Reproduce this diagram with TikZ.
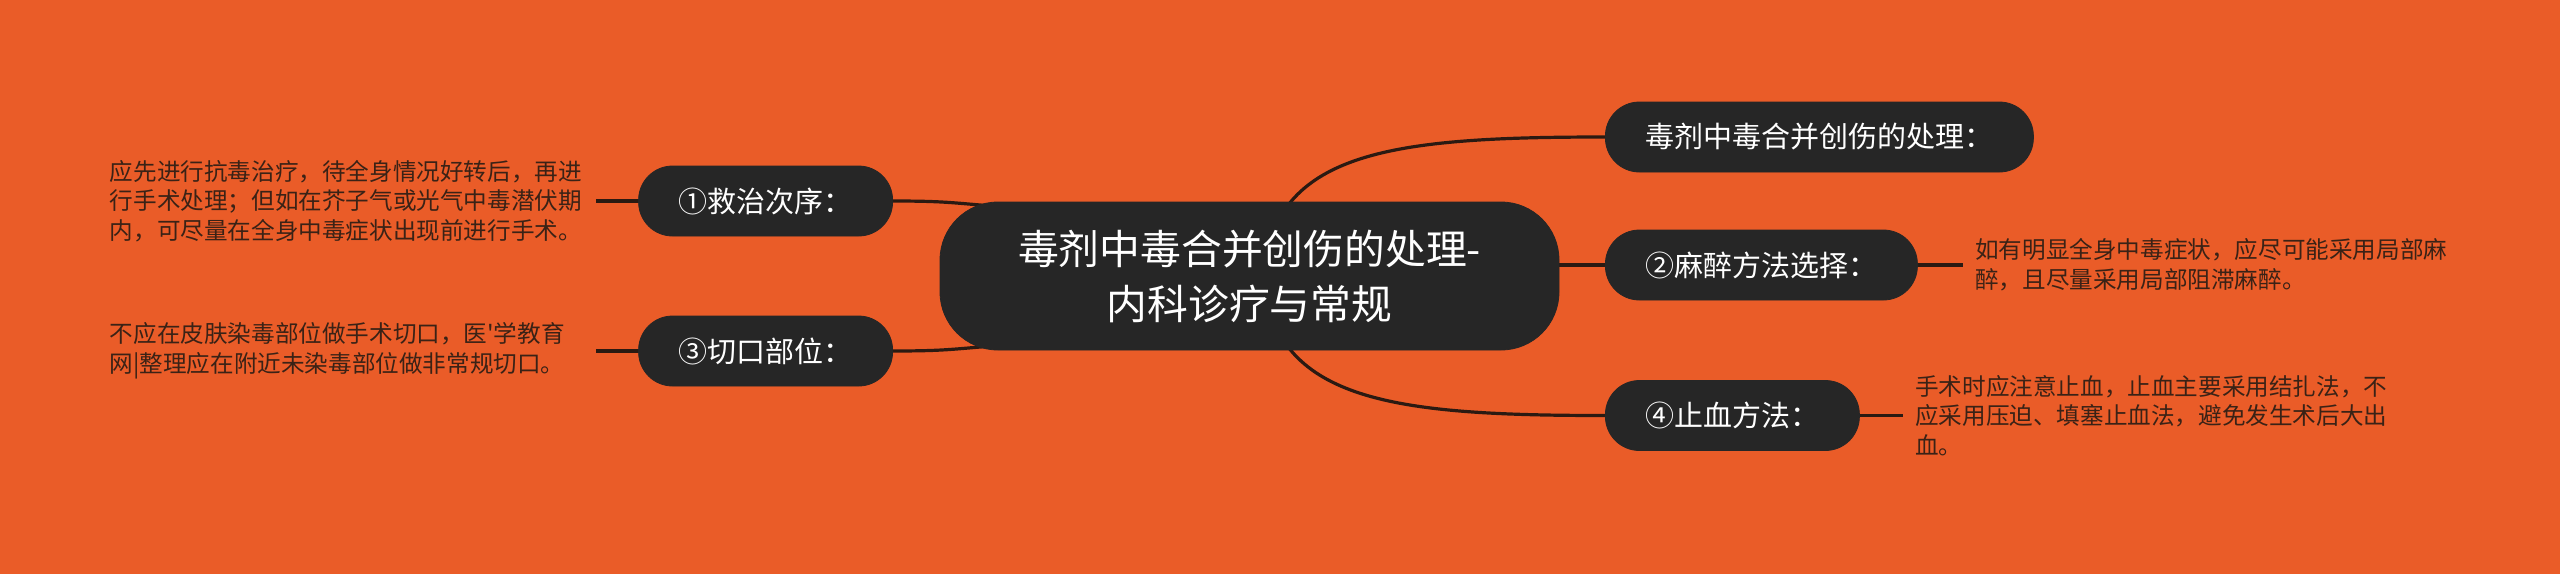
\documentclass[tikz,border=0pt]{standalone}
\usepackage{fontspec}
\setmainfont{Noto Sans CJK SC}[Ligatures=TeXOff,Kerning=Off]
\usetikzlibrary{positioning,calc}
\definecolor{mapbg}{HTML}{EA5C28}
\definecolor{nodefill}{HTML}{262626}
\definecolor{linkcol}{HTML}{2B1A12}
\definecolor{desccol}{HTML}{3A2216}
\pgfdeclarelayer{backdrop}
\pgfdeclarelayer{links}
\pgfsetlayers{backdrop,links,main}
\tikzset{
    topic/.style={fill=nodefill, draw=black!85, text=white, rounded corners=17pt,
        minimum height=35pt, inner xsep=20pt, font=\fontsize{14.5pt}{17pt}\selectfont},
    mainidea/.style={topic, rounded corners=29pt, minimum width=309.5pt,
        minimum height=74pt, align=center, font=\fontsize{20.4pt}{27.5pt}\selectfont},
    detail/.style={text=desccol, text width=237pt, align=left, inner sep=6pt,
        font=\fontsize{11.8pt}{14.8pt}\selectfont},
    branch/.style={draw=linkcol, line width=1.6pt},
}

\begin{document}
\begin{tikzpicture}[x=0.5pt,y=-0.5pt]
    \begin{pgfonlayer}{backdrop}
        \fill[mapbg] (0,0) rectangle (2560,574);
    \end{pgfonlayer}
    \useasboundingbox (0,0) rectangle (2560,574);
    \node[mainidea] (c) at (1249.5,276) {毒剂中毒合并创伤的处理-\\内科诊疗与常规};
    % left side
    \node[topic, anchor=east] (n1) at (893,201) {①救治次序：};
    \node[topic, anchor=east] (n3) at (893,351) {③切口部位：};
    \node[detail, left=21pt of n1] (t1) {应先进行抗毒治疗，待全身情况好转后，再进\\行手术处理；但如在芥子气或光气中毒潜伏期\\内，可尽量在全身中毒症状出现前进行手术。};
    \node[detail, left=21pt of n3] (t3) {不应在皮肤染毒部位做手术切口，医'学教育\\网|整理应在附近未染毒部位做非常规切口。};
    % right side
    \node[topic, anchor=west] (n0) at (1605,137) {毒剂中毒合并创伤的处理：};
    \node[topic, anchor=west] (n2) at (1605,265) {②麻醉方法选择：};
    \node[topic, anchor=west] (n4) at (1605,415.5) {④止血方法：};
    \node[detail, right=22.5pt of n2] (t2) {如有明显全身中毒症状，应尽可能采用局部麻\\醉，且尽量采用局部阻滞麻醉。};
    \node[detail, right=21.5pt of n4] (t4) {手术时应注意止血，止血主要采用结扎法，不\\应采用压迫、填塞止血法，避免发生术后大出\\血。};
    \begin{pgfonlayer}{links}
        \draw[branch] (n1.east) .. controls +(60,0) and +(-60,-4) .. ($(c.north west)+(75,6)$);
        \draw[branch] (n3.east) .. controls +(60,0) and +(-60,4) .. ($(c.south west)+(75,-6)$);
        \draw[branch] ($(c.north)+(15.5,58)$) .. controls (1285,150) and (1400,137) .. (n0.west);
        \draw[branch] ($(c.south)+(15.5,-58)$) .. controls (1285,402) and (1400,415.5) .. (n4.west);
        \draw[branch] (c.east |- n2.west) -- (n2.west);
        \draw[branch] (t1) -- (n1);
        \draw[branch] (t3) -- (n3);
        \draw[branch] (n2) -- (t2);
        \draw[branch] (n4) -- (t4);
    \end{pgfonlayer}
\end{tikzpicture}
\end{document}
